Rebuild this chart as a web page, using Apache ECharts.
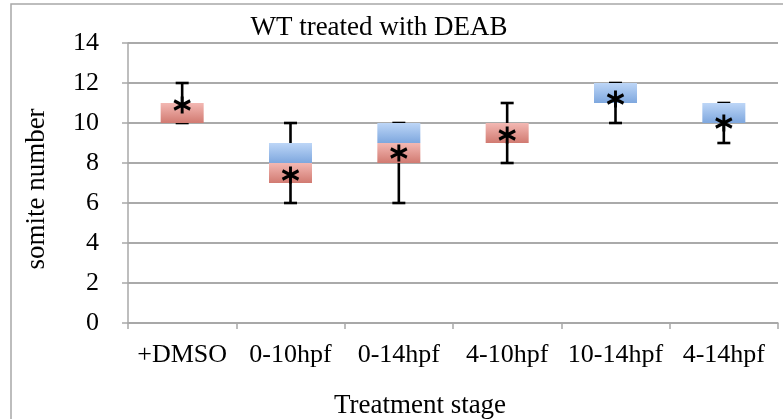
<!DOCTYPE html>
<html>
<head>
<meta charset="utf-8">
<script src="https://cdn.jsdelivr.net/npm/echarts@6/dist/echarts.min.js"></script>
<style>html,body{margin:0;padding:0;background:#fff}#c{width:783px;height:419px}</style>
</head>
<body>
<div id="c"></div>
<script>
var categories = ['+DMSO', '0-10hpf', '0-14hpf', '4-10hpf', '10-14hpf', '4-14hpf'];
var q1Values = [10, 7, 8, 9, 11, 10];
var medianValues = [11, 8, 9, 10, 11, 10];
var q3Values = [11, 9, 10, 10, 12, 11];
var minValues = [10, 6, 6, 8, 10, 9];
var maxValues = [12, 10, 10, 11, 12, 11];
var meanValues = [10.9, 7.4, 8.5, 9.4, 11.2, 10.0];
var yTicks = [0, 2, 4, 6, 8, 10, 12, 14];

var FONT = '"Liberation Serif", "Times New Roman", serif';
var lowerPart = q1Values.map(function (q, i) { return medianValues[i] - q; });
var upperPart = q3Values.map(function (q, i) { return q - medianValues[i]; });
var whiskerData = categories.map(function (c, i) { return [i, minValues[i], maxValues[i]]; });
var meanData = categories.map(function (c, i) { return [i, meanValues[i]]; });

var chart = echarts.init(document.getElementById('c'));
chart.setOption({
  animation: false,
  backgroundColor: '#fff',
  title: {
    text: 'WT treated with DEAB',
    left: 374, top: 9, textAlign: 'center',
    textStyle: { fontFamily: FONT, fontSize: 27, fontWeight: 'normal', color: '#000' }
  },
  graphic: [{
    type: 'rect', silent: true, z: -1,
    shape: { x: 11, y: 4, width: 820, height: 500 },
    style: { fill: 'none', stroke: '#a8a8a8', lineWidth: 1.5 }
  }],
  grid: { left: 128, right: 5, top: 43, bottom: 96, containLabel: false, outerBoundsMode: 'none' },
  xAxis: {
    type: 'category',
    data: categories,
    name: 'Treatment stage',
    nameLocation: 'middle',
    nameGap: 69,
    nameTextStyle: { fontFamily: FONT, fontSize: 27, color: '#000', padding: [0, 66, 0, 0] },
    axisLine: { lineStyle: { color: '#a8a8a8', width: 1.5 } },
    axisTick: { show: true, length: 6, lineStyle: { color: '#a8a8a8', width: 1.5 } },
    axisLabel: { interval: 0, fontFamily: FONT, fontSize: 26, color: '#000', margin: 19 }
  },
  yAxis: {
    type: 'value',
    min: 0, max: 14, interval: 2,
    name: 'somite number',
    nameLocation: 'middle',
    nameGap: 78,
    nameRotate: 90,
    nameTextStyle: { fontFamily: FONT, fontSize: 27, color: '#000', padding: [0, 12, 0, 0] },
    axisLine: { show: true, lineStyle: { color: '#a8a8a8', width: 1.5 } },
    axisTick: { show: true, length: 6, lineStyle: { color: '#a8a8a8', width: 1.5 } },
    splitLine: { show: true, lineStyle: { color: '#aaaaaa', width: 2 } },
    axisLabel: {
      fontFamily: FONT, fontSize: 26, color: '#000', margin: 29,
      formatter: function (v) { return yTicks.indexOf(v) >= 0 ? String(v) : ''; }
    }
  },
  series: [
    {
      type: 'custom',
      z: 1,
      renderItem: function (params, api) {
        var x = api.value(0);
        var lo = api.coord([x, api.value(1)]);
        var hi = api.coord([x, api.value(2)]);
        var hw = 6.5;
        var st = { stroke: '#000', lineWidth: 2.6 };
        return {
          type: 'group',
          children: [
            { type: 'line', shape: { x1: lo[0], y1: lo[1], x2: hi[0], y2: hi[1] }, style: st },
            { type: 'line', shape: { x1: lo[0] - hw, y1: lo[1], x2: lo[0] + hw, y2: lo[1] }, style: st },
            { type: 'line', shape: { x1: hi[0] - hw, y1: hi[1], x2: hi[0] + hw, y2: hi[1] }, style: st }
          ]
        };
      },
      encode: { x: 0, y: [1, 2] },
      data: whiskerData
    },
    {
      type: 'bar', stack: 'box', barWidth: 43, z: 2,
      itemStyle: { color: 'transparent' },
      data: q1Values
    },
    {
      type: 'bar', stack: 'box', barWidth: 43, z: 2,
      itemStyle: {
        color: new echarts.graphic.LinearGradient(0, 0, 0, 1, [
          { offset: 0, color: '#f3b8b3' }, { offset: 1, color: '#d17a71' }
        ])
      },
      data: lowerPart
    },
    {
      type: 'bar', stack: 'box', barWidth: 43, z: 2,
      itemStyle: {
        color: new echarts.graphic.LinearGradient(0, 0, 0, 1, [
          { offset: 0, color: '#bdd6f7' }, { offset: 1, color: '#7ea7de' }
        ])
      },
      data: upperPart
    },
    {
      type: 'scatter', z: 5,
      symbol: 'path://M0,-10L0,10M-8.66,-5L8.66,5M-8.66,5L8.66,-5',
      symbolSize: [16, 17],
      itemStyle: { color: 'none', borderColor: '#000', borderWidth: 3, opacity: 1 },
      data: meanData
    }
  ]
});
</script>
</body>
</html>
